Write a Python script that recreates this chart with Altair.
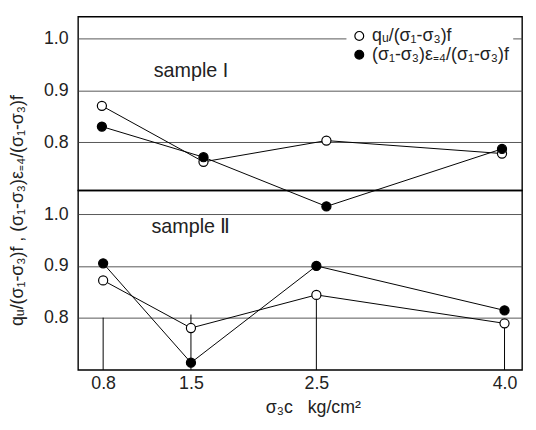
import altair as alt
import pandas as pd

# ---- data ----
series = ["qᵤ/(σ₁-σ₃)f", "(σ₁-σ₃)ε₌₄/(σ₁-σ₃)f"]

x_upper = [0.79, 1.60, 2.58, 3.98]
qu_upper = [0.870, 0.762, 0.803, 0.778]
eps_upper = [0.830, 0.771, 0.676, 0.787]

x_lower = [0.80, 1.50, 2.50, 4.00]
qu_lower = [0.872, 0.780, 0.844, 0.789]
eps_lower = [0.905, 0.713, 0.900, 0.814]

drop_x = [0.80, 1.50, 2.50, 4.00]
drop_top = [0.800, 0.806, 0.844, 0.789]

x_ticks = [0.8, 1.5, 2.5, 4.0]
y_ticks = [0.8, 0.9, 1.0]

label_upper = ["sample I", 1.5, 0.938]
label_lower = ["sample Ⅱ", 1.5, 0.975]

FONT = "Liberation Sans"


def long_df(xs, qu, eps):
    rows = []
    for i, x in enumerate(xs):
        rows.append({"x": x, "y": qu[i], "series": series[0]})
        rows.append({"x": x, "y": eps[i], "series": series[1]})
    return pd.DataFrame(rows)


up_df = long_df(x_upper, qu_upper, eps_upper)
lo_df = long_df(x_lower, qu_lower, eps_lower)
drop_df = pd.DataFrame({"x": drop_x, "y": [0.699] * len(drop_x), "y2": drop_top})

xscale = alt.Scale(domain=[0.6, 4.14], nice=False, zero=False)
fill_scale = alt.Scale(domain=series, range=["white", "black"])


def panel(df, ydom, height, label, with_legend, with_xaxis, with_ytitle):
    yscale = alt.Scale(domain=ydom, nice=False, zero=False)
    yaxis = alt.Axis(
        values=y_ticks, format=".1f", grid=True, ticks=False, domain=False,
        labelPadding=10, labelFontSize=18, labelFont=FONT, labelColor="#222",
        gridColor="#444", gridWidth=0.9,
        title=("qᵤ/(σ₁-σ₃)f , (σ₁-σ₃)ε₌₄/(σ₁-σ₃)f" if with_ytitle else None),
        titleFontSize=18, titleFont=FONT, titleFontWeight="normal",
        titleColor="#222", titleX=-52, titleY=height + 20,
    )
    if with_xaxis:
        xaxis = alt.Axis(
            values=x_ticks, format=".1f", grid=False, ticks=False, domain=False,
            labelPadding=5, labelFontSize=18, labelFont=FONT, labelColor="#222",
            title="σ₃c\u00a0\u00a0\u00a0kg/cm²", titleFontSize=18, titleFont=FONT,
            titleFontWeight="normal", titleColor="#222", titlePadding=6,
            titleX=238,
        )
    else:
        xaxis = None

    base = alt.Chart(df)
    lines = base.mark_line(color="black", strokeWidth=1).encode(
        x=alt.X("x:Q", scale=xscale, axis=xaxis),
        y=alt.Y("y:Q", scale=yscale, axis=yaxis),
        detail="series:N",
    )
    legend = None
    if with_legend:
        legend = alt.Legend(
            title=None, orient="none", legendX=272, legendY=7,
            fillColor="white", padding=4, labelFontSize=18, labelFont=FONT,
            labelColor="#222", symbolSize=80, symbolStrokeColor="black",
            symbolStrokeWidth=1.2, symbolType="circle", rowPadding=0,
            clipHeight=17, labelOffset=4, labelLimit=300,
        )
    pts = base.mark_point(
        shape="circle", size=85, filled=True, stroke="black",
        strokeWidth=1.2, opacity=1,
    ).encode(
        x="x:Q", y="y:Q",
        fill=alt.Fill("series:N", scale=fill_scale, legend=legend),
    )
    txt = alt.Chart(
        pd.DataFrame({"t": [label[0]], "x": [label[1]], "y": [label[2]]})
    ).mark_text(fontSize=20, font=FONT, color="#222", align="center").encode(
        x="x:Q", y="y:Q", text="t:N"
    )
    layers = [lines, pts, txt]
    if with_xaxis:
        rules = alt.Chart(drop_df).mark_rule(color="black", strokeWidth=1).encode(
            x="x:Q", y="y:Q", y2="y2:Q"
        )
        layers = [rules] + layers
    return alt.layer(*layers).properties(width=450, height=height)


upper = panel(up_df, [0.707, 1.042], 176, label_upper, True, False, True)
lower = panel(lo_df, [0.699, 1.046], 182, label_lower, False, True, False)

chart = (
    alt.vconcat(upper, lower, spacing=0, bounds="flush")
    .resolve_scale(fill="independent", x="independent", y="independent")
    .resolve_legend(fill="independent")
    .properties(padding={"left": 0, "top": 5, "right": 5, "bottom": 5},
                background="white")
    .configure_view(stroke="black", strokeWidth=1.4)
)

chart.save("out.html", embed_options={"renderer": "svg", "actions": False})
